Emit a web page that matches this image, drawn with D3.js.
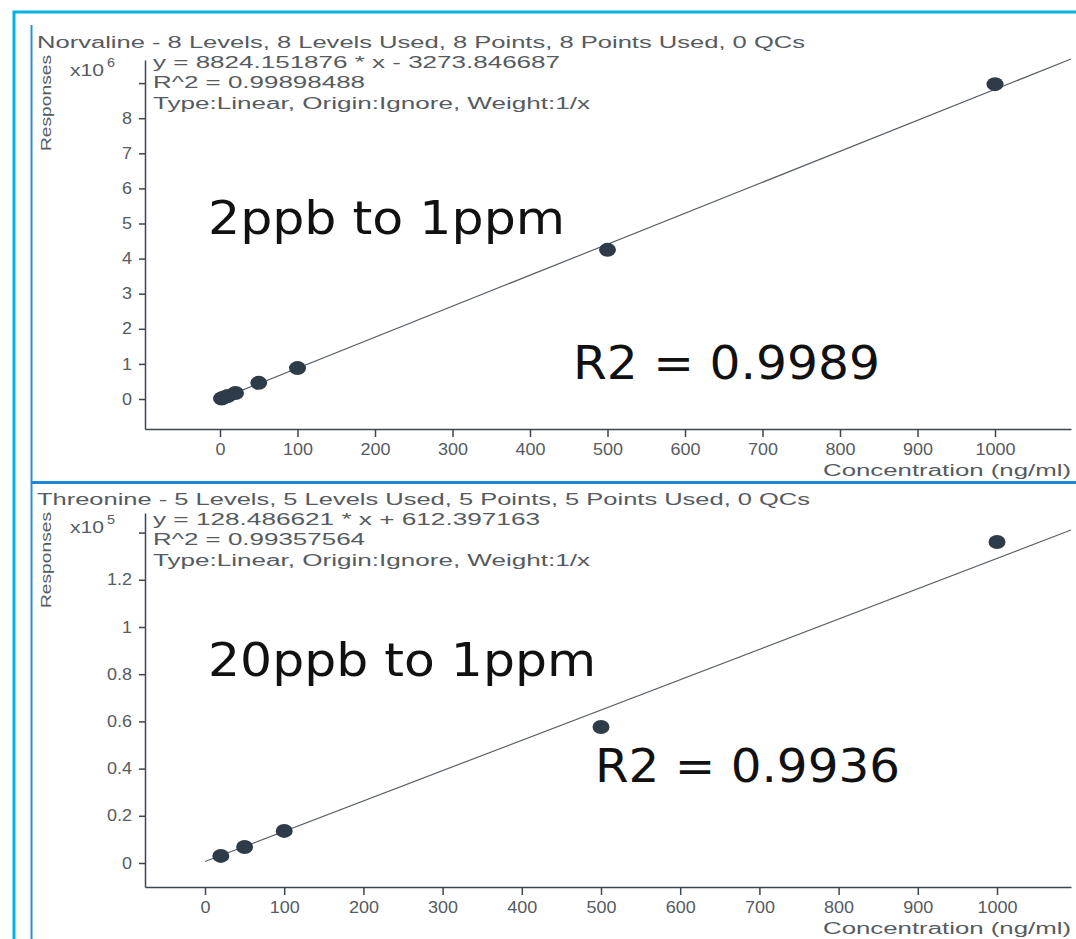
<!DOCTYPE html>
<html>
<head>
<meta charset="utf-8">
<script src="https://cdn.jsdelivr.net/npm/d3@7"></script>
<style>
  html, body { margin: 0; padding: 0; background: #fff; }
  svg { display: block; font-family: "Liberation Sans", Arial, sans-serif; }
</style>
</head>
<body>
<div id="main"></div>
<script>
// calibration levels (ng/ml) and measured responses
const norvalineLevels = [2, 5, 10, 20, 50, 100, 500, 1000];
const norvalineResp = [15000, 45000, 85000, 170000, 460000, 880000, 4250000, 8970000];
const threonineLevels = [20, 50, 100, 500, 1000];
const threonineResp = [3000, 6800, 13600, 57600, 136000];

const xTicks = [0, 100, 200, 300, 400, 500, 600, 700, 800, 900, 1000];
const yTicksTop = [0, 1, 2, 3, 4, 5, 6, 7, 8, 9];
const yTicksBottom = [0, 0.2, 0.4, 0.6, 0.8, 1, 1.2, 1.4];

const fitTop = { slope: 8824.151876, icpt: -3273.846687 };
const fitBottom = { slope: 128.486621, icpt: 612.397163 };

const W = 1076, H = 939;
const txtCol = '#555b60', axCol = '#3c4650', dotCol = '#2e3b48';

const svg = d3.select('#main').append('svg').attr('width', W).attr('height', H);

// frame lines
svg.append('rect').attr('x', 14).attr('y', 12).attr('width', W).attr('height', H)
  .attr('fill', 'none').attr('stroke', '#00b4e4').attr('stroke-width', 3);
svg.append('line').attr('x1', 31.5).attr('x2', 31.5).attr('y1', 25).attr('y2', H)
  .attr('stroke', '#2a8fdc').attr('stroke-width', 2);
svg.append('line').attr('x1', 31).attr('x2', W).attr('y1', 482.5).attr('y2', 482.5)
  .attr('stroke', '#1e88d8').attr('stroke-width', 3);

const txt = (g, x, y, s, size, len, anchor) => {
  const t = g.append('text').attr('x', x).attr('y', y).text(s)
    .attr('font-size', size).attr('fill', txtCol);
  if (len) t.attr('textLength', len).attr('lengthAdjust', 'spacingAndGlyphs');
  if (anchor) t.attr('text-anchor', anchor);
  return t;
};

const panels = [
  {
    levels: norvalineLevels, resp: norvalineResp, fit: fitTop, unit: 1e6, exp: '6',
    yTicks: yTicksTop, yLabelMax: 8,
    x0: 220, x1000: 995, yZero: 399, yPerUnit: 35.1, yTop: 60, yBot: 429,
    title: 'Norvaline - 8 Levels, 8 Levels Used, 8 Points, 8 Points Used, 0 QCs', titleLen: 768,
    eq: 'y = 8824.151876 * x - 3273.846687', eqLen: 407, r2: 'R^2 = 0.99898488',
    top: 48,
    big1: '2ppb to 1ppm', big1x: 208, big1y: 234, big1Len: 357,
    big2: 'R2 = 0.9989', big2x: 573, big2y: 379, big2Len: 307
  },
  {
    levels: threonineLevels, resp: threonineResp, fit: fitBottom, unit: 1e5, exp: '5',
    yTicks: yTicksBottom, yLabelMax: 1.2,
    x0: 205, x1000: 997, yZero: 863, yPerUnit: 236, yTop: 513, yBot: 887,
    title: 'Threonine - 5 Levels, 5 Levels Used, 5 Points, 5 Points Used, 0 QCs', titleLen: 773,
    eq: 'y = 128.486621 * x + 612.397163', eqLen: 387, r2: 'R^2 = 0.99357564',
    top: 505,
    big1: '20ppb to 1ppm', big1x: 208, big1y: 676, big1Len: 388,
    big2: 'R2 = 0.9936', big2x: 595, big2y: 782, big2Len: 305
  }
];

const axL = 145, axR = 1071;

panels.forEach(p => {
  const g = svg.append('g');
  const kx = (p.x1000 - p.x0) / 1000;
  const x = d3.scaleLinear().domain([(axL - p.x0) / kx, (axR - p.x0) / kx]).range([axL, axR]);
  const y = d3.scaleLinear()
    .domain([(p.yZero - p.yBot) / p.yPerUnit, (p.yZero - p.yTop) / p.yPerUnit])
    .range([p.yBot, p.yTop]);

  // y axis
  const ya = g.append('g').attr('transform', 'translate(' + axL + ',0)')
    .call(d3.axisLeft(y).tickValues(p.yTicks).tickSizeInner(6).tickSizeOuter(0)
      .tickFormat(d => d > p.yLabelMax + 1e-9 ? '' : d3.format('~g')(d)));
  ya.select('.domain').attr('stroke', axCol).attr('stroke-width', 1.5);
  ya.selectAll('.tick line').attr('stroke', axCol).attr('stroke-width', 1.5);
  ya.selectAll('.tick text').attr('fill', txtCol).attr('font-size', 16)
    .attr('font-family', 'Liberation Sans, Arial, sans-serif').attr('x', -13)
    .each(function (d) {
      const s = d3.select(this).text();
      if (s) d3.select(this).attr('textLength', s.replace('.', '').length * 10 + (s.includes('.') ? 5 : 0))
        .attr('lengthAdjust', 'spacingAndGlyphs');
    });

  // x axis
  const xa = g.append('g').attr('transform', 'translate(0,' + p.yBot + ')')
    .call(d3.axisBottom(x).tickValues(xTicks).tickSizeInner(8).tickSizeOuter(0)
      .tickFormat(d3.format('d')));
  xa.select('.domain').attr('stroke', axCol).attr('stroke-width', 1.5);
  xa.selectAll('.tick line').attr('stroke', axCol).attr('stroke-width', 1.5);
  xa.selectAll('.tick text').attr('fill', txtCol).attr('font-size', 16)
    .attr('font-family', 'Liberation Sans, Arial, sans-serif').attr('y', 15)
    .attr('textLength', d => String(d).length * 10).attr('lengthAdjust', 'spacingAndGlyphs');

  // regression line
  const lineX = [0, x.domain()[1]];
  g.append('path')
    .datum(lineX)
    .attr('d', d3.line().x(d => x(d)).y(d => y((p.fit.slope * d + p.fit.icpt) / p.unit)))
    .attr('stroke', '#5a6068').attr('stroke-width', 1.2).attr('fill', 'none');

  // calibration points
  g.selectAll('ellipse.pt')
    .data(p.levels.map((l, i) => [l, p.resp[i]]))
    .enter().append('ellipse')
    .attr('class', 'pt')
    .attr('cx', d => x(d[0])).attr('cy', d => y(d[1] / p.unit))
    .attr('rx', 8.5).attr('ry', 7)
    .attr('fill', dotCol);

  // header texts
  txt(g, 37, p.top, p.title, 16, p.titleLen);
  txt(g, 153, p.top + 20, p.eq, 16, p.eqLen);
  txt(g, 153, p.top + 40, p.r2, 16, 212);
  txt(g, 153, p.top + 61, 'Type:Linear, Origin:Ignore, Weight:1/x', 16, 437);

  txt(g, 70, p.top + 28, 'x10', 16, 34);
  txt(g, 107, p.top + 19, p.exp, 12, 8);

  txt(g, axR, p.yBot + 47, 'Concentration (ng/ml)', 16, 248, 'end');

  const rx = 51, ry = p.top + 55;
  g.append('text').attr('transform', 'translate(' + rx + ',' + ry + ') rotate(-90)')
    .attr('text-anchor', 'middle').attr('font-size', 14).attr('fill', txtCol)
    .attr('textLength', 96).attr('lengthAdjust', 'spacingAndGlyphs')
    .text('Responses');

  // annotations
  g.append('text').attr('x', p.big1x).attr('y', p.big1y).text(p.big1)
    .attr('font-size', 46).attr('fill', '#111')
    .attr('font-family', 'DejaVu Sans, sans-serif')
    .attr('textLength', p.big1Len).attr('lengthAdjust', 'spacingAndGlyphs');
  g.append('text').attr('x', p.big2x).attr('y', p.big2y).text(p.big2)
    .attr('font-size', 46).attr('fill', '#111')
    .attr('font-family', 'DejaVu Sans, sans-serif')
    .attr('textLength', p.big2Len).attr('lengthAdjust', 'spacingAndGlyphs');
});
</script>
</body>
</html>
